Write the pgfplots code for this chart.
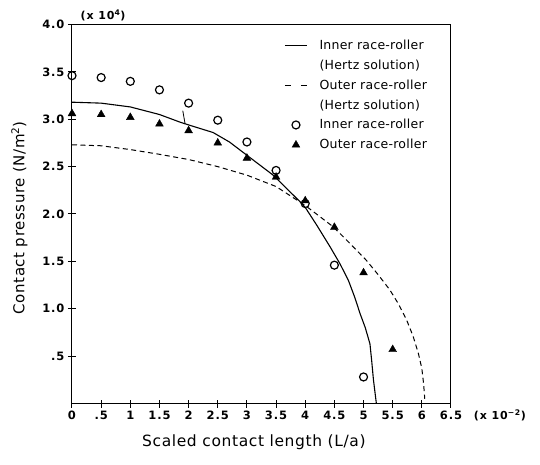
\documentclass[border=0pt]{standalone}
\usepackage{fontspec}
\setmainfont{DejaVu Sans}
\newfontfamily\legfont{DejaVu Sans}[LetterSpace=2]
\newfontfamily\tickfont{DejaVu Sans Bold}[LetterSpace=8]
\newfontfamily\labfont{DejaVu Sans}[LetterSpace=4]
\usepackage{pgfplots}
\pgfplotsset{compat=1.18}

% Hertz solutions
\pgfplotstableread{
x    p
0    3.18
0.5  3.17
1.0  3.13
1.5  3.05
1.85 2.97
2.0  2.94
2.42 2.86
2.7  2.76
3.0  2.62
3.45 2.41
3.91 2.13
4.0  2.07
4.2  1.88
4.43 1.65
4.6  1.47
4.74 1.30
4.85 1.12
4.94 0.95
5.03 0.80
5.11 0.63
5.14 0.45
5.17 0.25
5.22 0
}\innerhertz
\pgfplotstableread{
x    p
0    2.73
0.5  2.72
1.0  2.68
1.5  2.63
2.0  2.575
2.5  2.50
3.0  2.41
3.5  2.29
4.0  2.09
4.48 1.865
4.75 1.70
5.05 1.51
5.25 1.36
5.45 1.20
5.6  1.05
5.74 0.88
5.85 0.71
5.94 0.53
6.0  0.37
6.03 0.21
6.05 0.05
}\outerhertz
\pgfplotstableread{
x   p
0   3.46
0.5 3.44
1   3.40
1.5 3.31
2   3.17
2.5 2.99
3   2.76
3.5 2.46
4   2.11
4.5 1.46
5   0.28
}\innerfe
\pgfplotstableread{
x   p
0   3.06
0.5 3.05
1   3.02
1.5 2.95
2   2.88
2.5 2.75
3   2.59
3.5 2.39
4   2.14
4.5 1.86
5   1.38
5.5 0.57
}\outerfe

\begin{document}
\begin{tikzpicture}
\useasboundingbox (-72bp,-61bp) rectangle (468bp,403.5bp);
\begin{axis}[
  at={(0,0)}, anchor=south west,
  scale only axis, width=379bp, height=379bp,
  xmin=0, xmax=6.5, ymin=0, ymax=4,
  clip=false,
  axis line style={line width=1bp},
  tick pos=left, tick align=center,
  major tick length=8bp,
  tick style={line width=1bp, black},
  xtick={0,0.5,1,1.5,2,2.5,3,3.5,4,4.5,5,5.5,6,6.5},
  xticklabels={0,.5,1,1.5,2,2.5,3,3.5,4,4.5,5,5.5,6,6.5},
  ytick={0.5,1,1.5,2,2.5,3,3.5,4},
  yticklabels={.5,1.0,1.5,2.0,2.5,3.0,3.5,4.0},
  tick label style={font=\tickfont\fontsize{11.5bp}{14bp}\selectfont},
  legend style={draw=none, fill=none, at={(0.56,0.966)}, anchor=north west,
    font=\legfont\fontsize{12.5bp}{14bp}\selectfont, row sep=5bp, column sep=10bp,
    inner sep=0pt},
  legend cell align=left,
  legend image code/.code={\draw[mark repeat=2,mark phase=2,#1]
    plot coordinates {(0bp,0bp)(11bp,0bp)(22bp,0bp)};},
]
\addplot[black, line width=1.1bp] table[x=x,y=p] {\innerhertz};
\addlegendentry{Inner race-roller}
\addlegendimage{empty legend}
\addlegendentry{(Hertz solution)}
\addplot[black, line width=1bp, dash pattern=on 5bp off 3.5bp,
  legend image post style={dash pattern=on 6bp off 10bp}] table[x=x,y=p] {\outerhertz};
\addlegendentry{Outer race-roller}
\addlegendimage{empty legend}
\addlegendentry{(Hertz solution)}
\addplot[only marks, mark=o, mark size=4bp, mark options={line width=1.2bp, black}] table[x=x,y=p] {\innerfe};
\addlegendentry{Inner race-roller}
\addplot[only marks, mark=triangle*, mark size=4.5bp, mark options={black, fill=black}] table[x=x,y=p] {\outerfe};
\addlegendentry{Outer race-roller}
\draw[line width=0.8bp] (axis cs:1.9,3.09) -- (axis cs:1.94,2.95);
\node[font=\tickfont\fontsize{11bp}{14bp}\selectfont] at (rel axis cs:0.082,1.0245) {(x 10\textsuperscript{4})};
\node[font=\tickfont\fontsize{11bp}{14bp}\selectfont] at (rel axis cs:1.129,-0.031) {(x 10\textsuperscript{−2})};
\node[font=\labfont\fontsize{15.5bp}{18bp}\selectfont] at (rel axis cs:0.48,-0.103) {Scaled contact length (L/a)};
\node[font=\labfont\fontsize{15bp}{18bp}\selectfont, rotate=90] at (rel axis cs:-0.139,0.49) {Contact pressure (N/m\textsuperscript{2})};
\end{axis}
\end{tikzpicture}
\end{document}
